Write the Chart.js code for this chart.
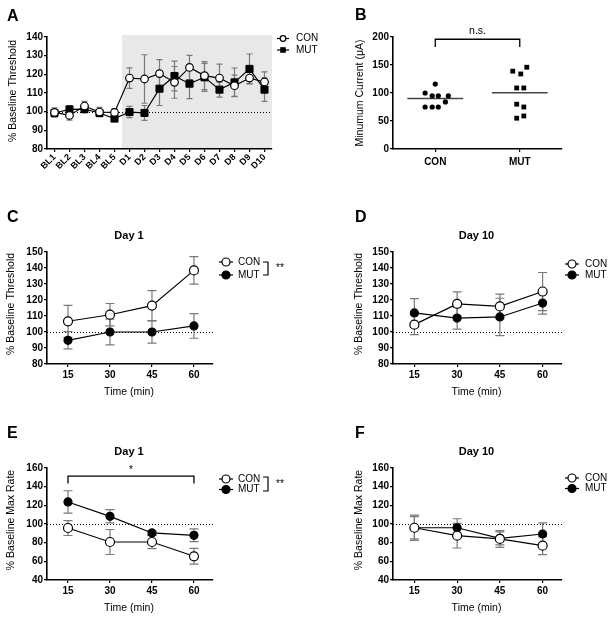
<!DOCTYPE html>
<html><head><meta charset="utf-8">
<script src="https://cdn.jsdelivr.net/npm/chart.js@4/dist/chart.umd.min.js"></script>
<style>
html,body{margin:0;padding:0;background:#fff;}
body{width:612px;height:618px;position:relative;overflow:hidden;}
canvas{position:absolute;}
</style></head><body>
<canvas id="cA" width="345" height="200" style="left:0;top:0"></canvas>
<canvas id="cB" width="267" height="200" style="left:345px;top:0"></canvas>
<canvas id="cC" width="306" height="200" style="left:0;top:200px"></canvas>
<canvas id="cD" width="306" height="200" style="left:306px;top:200px"></canvas>
<canvas id="cE" width="306" height="218" style="left:0;top:400px"></canvas>
<canvas id="cF" width="306" height="218" style="left:306px;top:400px"></canvas>
<script>
// ---------- DATA ----------
const catsA = ['BL1','BL2','BL3','BL4','BL5','D1','D2','D3','D4','D5','D6','D7','D8','D9','D10'];
const conA    = [99.6, 98, 103, 99.8, 99.6, 118, 117.5, 120.4, 115.7, 123.7, 119.3, 118, 113.9, 118, 115.9];
const conAErr = [2.5, 2.5, 2.5, 2.5, 2, 5.5, 13, 7.5, 8.5, 6.5, 7.5, 7.5, 5.7, 3, 5.4];
const mutA    = [99.3, 101.2, 101.4, 99.3, 96.3, 99.8, 99.3, 112.3, 119.1, 115, 118.4, 111.8, 115.7, 122.9, 111.8];
const mutAErr = [2, 2, 2, 2, 1.5, 3, 4, 9, 8, 8, 7.5, 4, 7.7, 8, 6.3];
const ticksA  = [80, 90, 100, 110, 120, 130, 140];

const groupsB = ['CON', 'MUT'];
const conB = [116, 100, 95, 95, 95, 84, 75, 75, 75];
const conBJitter = [0, -0.12, -0.036, 0.036, 0.155, 0.12, -0.12, -0.036, 0.036];
const mutB = [139, 134, 146, 109, 109, 80, 75, 59, 55];
const mutBJitter = [-0.083, 0.012, 0.083, -0.036, 0.048, -0.036, 0.048, 0.048, -0.036];
const ticksB = [0, 50, 100, 150, 200];

const timePoints = [15, 30, 45, 60];
const conC = [106.7, 110.8, 116.5, 138.5];  const conCErr = [10, 7, 9.4, 8.6];
const mutC = [94.8, 100, 100, 103.8];       const mutCErr = [5.4, 8.1, 6.9, 7.7];
const conD = [104.6, 117.6, 116, 125.3];    const conDErr = [6.3, 7.5, 7.7, 11.9];
const mutD = [111.9, 108.7, 109.4, 118.1];  const mutDErr = [8.9, 6.9, 11.7, 6.9];
const ticksCD = [80, 90, 100, 110, 120, 130, 140, 150];
const conE = [95.7, 80.7, 80.7, 65.4];      const conEErr = [8, 13.4, 7.1, 8.4];
const mutE = [123.6, 108.2, 90.4, 87.9];    const mutEErr = [12, 7.1, 2.5, 6.8];
const conF = [96, 87.5, 84, 76.8];          const conFErr = [13.5, 13.2, 9, 9.7];
const mutF = [96, 96, 84.6, 89.3];          const mutFErr = [12, 9.6, 7, 11.8];
const ticksEF = [40, 60, 80, 100, 120, 140, 160];

// ---------- STYLE ----------
const FF = '"Liberation Sans", Arial, Helvetica, sans-serif';
Chart.defaults.font.family = FF;
Chart.defaults.color = '#000';

const deco = {
  id: 'deco',
  beforeDraw(chart, a, o) {
    if (o.shadeFrom == null) return;
    const ctx = chart.ctx, ca = chart.chartArea, xs = chart.scales.x;
    const x0 = (xs.getPixelForValue(o.shadeFrom - 1) + xs.getPixelForValue(o.shadeFrom)) / 2;
    ctx.save(); ctx.fillStyle = '#e8e8e8';
    ctx.fillRect(x0, ca.top - 2, ca.right - x0, ca.bottom - ca.top + 1);
    ctx.restore();
  },
  beforeDatasetsDraw(chart, a, o) {
    const ctx = chart.ctx, ca = chart.chartArea, ys = chart.scales.y;
    ctx.save();
    if (o.ref != null) {
      const y = Math.round(ys.getPixelForValue(o.ref)) + 0.5;
      ctx.strokeStyle = '#000'; ctx.lineWidth = 1; ctx.setLineDash([1, 2]);
      ctx.beginPath(); ctx.moveTo(ca.left, y); ctx.lineTo(ca.right, y); ctx.stroke();
      ctx.setLineDash([]);
    }
    chart.data.datasets.forEach((ds, i) => {
      if (!ds.errors) return;
      const meta = chart.getDatasetMeta(i);
      ctx.strokeStyle = '#7a7a7a'; ctx.lineWidth = 1.2;
      meta.data.forEach((pt, j) => {
        const v = ys.getValueForPixel(pt.y), e = ds.errors[j];
        const yt = ys.getPixelForValue(v + e), yb = ys.getPixelForValue(v - e);
        ctx.beginPath();
        ctx.moveTo(pt.x, yt); ctx.lineTo(pt.x, yb);
        ctx.moveTo(pt.x - o.cap, yt); ctx.lineTo(pt.x + o.cap, yt);
        ctx.moveTo(pt.x - o.cap, yb); ctx.lineTo(pt.x + o.cap, yb);
        ctx.stroke();
      });
    });
    ctx.restore();
  },
  afterDraw(chart, a, o) {
    const ctx = chart.ctx, xs = chart.scales.x, ys = chart.scales.y;
    ctx.save();
    ctx.translate(-o.ox, -o.oy);
    ctx.fillStyle = '#000'; ctx.strokeStyle = '#000';
    (o.texts || []).forEach(t => {
      ctx.save();
      ctx.font = t.font; ctx.textAlign = t.align || 'center'; ctx.textBaseline = t.base || 'middle';
      ctx.translate(t.x, t.y);
      if (t.rot) ctx.rotate(-Math.PI / 2);
      ctx.fillText(t.t, 0, 0);
      ctx.restore();
    });
    if (o.legend) {
      const L = o.legend;
      L.items.forEach(it => {
        ctx.lineWidth = 1.2; ctx.strokeStyle = '#000';
        ctx.beginPath(); ctx.moveTo(L.mx - L.seg, it.y); ctx.lineTo(L.mx + L.seg, it.y); ctx.stroke();
        if (it.style === 'rect') {
          ctx.fillStyle = '#000';
          ctx.fillRect(L.mx - L.r, it.y - L.r, 2 * L.r, 2 * L.r);
        } else {
          ctx.beginPath(); ctx.arc(L.mx, it.y, L.r, 0, Math.PI * 2);
          ctx.fillStyle = it.fill; ctx.fill(); ctx.stroke();
        }
        ctx.fillStyle = '#000'; ctx.font = L.font; ctx.textAlign = 'left'; ctx.textBaseline = 'middle';
        ctx.fillText(it.label, L.tx, it.y);
      });
      if (L.bracket) {
        const b = L.bracket;
        ctx.lineWidth = 1.2;
        ctx.beginPath();
        ctx.moveTo(b.x - b.w, b.y1); ctx.lineTo(b.x, b.y1); ctx.lineTo(b.x, b.y2); ctx.lineTo(b.x - b.w, b.y2);
        ctx.stroke();
        ctx.font = L.font; ctx.textAlign = 'left'; ctx.textBaseline = 'middle';
        ctx.fillText(b.text, b.tx, b.ty);
      }
    }
    ctx.restore();
    if (o.sig) {
      const s = o.sig;
      const x1 = xs.getPixelForValue(s.x1), x2 = xs.getPixelForValue(s.x2);
      const yt = ys.getPixelForValue(s.yTop), yl = ys.getPixelForValue(s.yLeg);
      ctx.save();
      ctx.strokeStyle = '#000'; ctx.lineWidth = 1.3;
      ctx.beginPath(); ctx.moveTo(x1, yl); ctx.lineTo(x1, yt); ctx.lineTo(x2, yt); ctx.lineTo(x2, yl); ctx.stroke();
      ctx.fillStyle = '#000'; ctx.font = s.font; ctx.textAlign = 'center'; ctx.textBaseline = 'middle';
      ctx.fillText(s.label, (x1 + x2) / 2, yt - s.dy);
      ctx.restore();
    }
  }
};
Chart.register(deco);

function axisStyle(size) {
  return {
    grid: { display: true, drawOnChartArea: false, drawTicks: true, tickLength: 3, color: '#000', lineWidth: 1.2 },
    border: { display: true, color: '#000', width: 1.6 },
    ticks: { color: '#000', font: { family: FF, size: size, weight: 'bold' }, padding: 1 }
  };
}
function yScale(tickArr, width) {
  const a = axisStyle(10);
  return Object.assign(a, {
    type: 'linear', min: tickArr[0], max: tickArr[tickArr.length - 1],
    afterBuildTicks: s => { s.ticks = tickArr.map(v => ({ value: v })); },
    afterFit: s => { s.width = width; }
  });
}
function xTime(height) {
  const a = axisStyle(10);
  a.ticks.padding = 2;
  return Object.assign(a, {
    type: 'linear', min: 7.5, max: 66.8,
    afterBuildTicks: s => { s.ticks = timePoints.map(v => ({ value: v })); },
    afterFit: s => { s.height = height; }
  });
}
function pad(g) {
  return { left: 0, top: g.T - g.oy, right: g.ox + g.w - g.R, bottom: g.oy + g.h - g.B - g.xH };
}
function lineDs(label, vals, errs, filled, r, style) {
  return {
    label, data: timePoints.map((t, i) => ({ x: t, y: vals[i] })), errors: errs,
    borderColor: '#000', borderWidth: 1.2, tension: 0,
    pointStyle: style || 'circle', pointRadius: r, pointBorderWidth: 1.2,
    pointBackgroundColor: filled ? '#000' : '#fff', pointBorderColor: '#000'
  };
}
function baseOpts(g, scales, decoOpts) {
  decoOpts.ox = g.ox; decoOpts.oy = g.oy;
  return {
    responsive: false, animation: false, devicePixelRatio: 1, events: [],
    layout: { padding: pad(g) },
    scales: scales,
    plugins: { legend: { display: false }, tooltip: { enabled: false }, deco: decoOpts }
  };
}
const titleFont = '10.5px ' + FF;
const legFont = '10px ' + FF;
const letterFont = 'bold 16px ' + FF;
const headFont = 'bold 11px ' + FF;

// ---------- A ----------
{
  const g = { ox: 0, oy: 0, w: 345, h: 200, L: 47, T: 37, R: 272, B: 149, xH: 30 };
  const xa = axisStyle(9);
  Object.assign(xa, { type: 'category', offset: true, afterFit: s => { s.height = g.xH; } });
  xa.ticks.minRotation = 45; xa.ticks.maxRotation = 45; xa.ticks.autoSkip = false; xa.ticks.padding = 0;
  new Chart(document.getElementById('cA'), {
    type: 'line',
    data: { labels: catsA, datasets: [
      { label: 'CON', data: conA, errors: conAErr, borderColor: '#000', borderWidth: 1.2, pointStyle: 'circle', pointRadius: 3.8, pointBorderWidth: 1.2, pointBackgroundColor: '#fff', pointBorderColor: '#000' },
      { label: 'MUT', data: mutA, errors: mutAErr, borderColor: '#000', borderWidth: 1.2, pointStyle: 'rect', pointRadius: 5, pointBorderWidth: 1, pointBackgroundColor: '#000', pointBorderColor: '#000' }
    ]},
    options: baseOpts(g, { x: xa, y: yScale(ticksA, g.L - g.ox) }, {
      shadeFrom: 5, ref: 100, cap: 3,
      texts: [
        { t: 'A', x: 7, y: 21, font: letterFont, align: 'left', base: 'alphabetic' },
        { t: '% Baseline Threshold', x: 13, y: 91, font: titleFont, rot: true }
      ],
      legend: { mx: 283, seg: 6, r: 2.8, tx: 296, font: legFont,
        items: [{ y: 38.5, label: 'CON', fill: '#fff' }, { y: 50, label: 'MUT', style: 'rect' }] }
    })
  });
}

// ---------- B ----------
{
  const g = { ox: 345, oy: 0, w: 267, h: 200, L: 393, T: 37, R: 562, B: 149, xH: 22 };
  const xb = axisStyle(10);
  xb.ticks.padding = 4;
  Object.assign(xb, {
    type: 'linear', min: 0.5, max: 2.5,
    afterBuildTicks: s => { s.ticks = [1, 2].map(v => ({ value: v })); },
    afterFit: s => { s.height = g.xH; }
  });
  xb.ticks.callback = v => groupsB[v - 1];
  const mean = arr => arr.reduce((a, b) => a + b, 0) / arr.length;
  const mc = mean(conB), mm = mean(mutB);
  new Chart(document.getElementById('cB'), {
    type: 'scatter',
    data: { datasets: [
      { label: 'CON', data: conB.map((v, i) => ({ x: 1 + conBJitter[i], y: v })), pointStyle: 'circle', pointRadius: 2.6, pointBackgroundColor: '#000', pointBorderColor: '#000', pointBorderWidth: 0 },
      { label: 'MUT', data: mutB.map((v, i) => ({ x: 2 + mutBJitter[i], y: v })), pointStyle: 'rect', pointRadius: 3.4, pointBackgroundColor: '#000', pointBorderColor: '#000', pointBorderWidth: 0 },
      { type: 'line', label: 'CON mean', data: [{ x: 0.67, y: mc }, { x: 1.33, y: mc }], borderColor: '#444', borderWidth: 1.5, pointRadius: 0 },
      { type: 'line', label: 'MUT mean', data: [{ x: 1.67, y: mm }, { x: 2.33, y: mm }], borderColor: '#444', borderWidth: 1.5, pointRadius: 0 }
    ]},
    options: baseOpts(g, { x: xb, y: yScale(ticksB, g.L - g.ox) }, {
      texts: [
        { t: 'B', x: 355, y: 20, font: letterFont, align: 'left', base: 'alphabetic' },
        { t: 'Minumum Current (\u03bcA)', x: 360, y: 93, font: titleFont, rot: true }
      ],
      sig: { x1: 1, x2: 2, yTop: 196, yLeg: 182, label: 'n.s.', font: '10.5px ' + FF, dy: 8 }
    })
  });
}

// ---------- C, D, E, F ----------
function timePanel(id, g, con, conErr, mut, mutErr, yt, letter, head, extra) {
  const d = Object.assign({
    ref: 100, cap: 4.5,
    texts: [
      { t: letter, x: g.ox + (g.ox ? 49 : 7), y: g.oy + (g.oy === 400 ? 38 : 22), font: letterFont, align: 'left', base: 'alphabetic' },
      { t: head, x: (g.L + g.R) / 2 - 1, y: g.oy + (g.oy === 400 ? 52 : 36), font: headFont },
      { t: yt === ticksCD ? '% Baseline Threshold' : '% Baseline Max Rate', x: g.ox + (g.ox ? 53 : 11), y: (g.T + g.B) / 2 - 4, font: titleFont, rot: true },
      { t: 'Time (min)', x: (g.L + g.R) / 2 - 1, y: g.B + 28, font: titleFont }
    ]
  }, extra);
  new Chart(document.getElementById(id), {
    type: 'line',
    data: { datasets: [ lineDs('CON', con, conErr, false, 4.5), lineDs('MUT', mut, mutErr, true, 4) ] },
    options: baseOpts(g, { x: xTime(g.xH), y: yScale(yt, g.L - g.ox) }, d)
  });
}
timePanel('cC', { ox: 0, oy: 200, w: 306, h: 200, L: 47, T: 252, R: 213, B: 364, xH: 20 },
  conC, conCErr, mutC, mutCErr, ticksCD, 'C', 'Day 1', {
    legend: { mx: 226, seg: 7, r: 4, tx: 238, font: legFont,
      items: [{ y: 262, label: 'CON', fill: '#fff' }, { y: 275, label: 'MUT', fill: '#000' }],
      bracket: { x: 268, y1: 262, y2: 275, w: 5, text: '**', tx: 276, ty: 268 } }
  });
timePanel('cD', { ox: 306, oy: 200, w: 306, h: 200, L: 393, T: 252, R: 562, B: 364, xH: 20 },
  conD, conDErr, mutD, mutDErr, ticksCD, 'D', 'Day 10', {
    legend: { mx: 572, seg: 7, r: 4, tx: 585, font: legFont,
      items: [{ y: 264, label: 'CON', fill: '#fff' }, { y: 275, label: 'MUT', fill: '#000' }] }
  });
timePanel('cE', { ox: 0, oy: 400, w: 306, h: 218, L: 47, T: 468, R: 213, B: 580, xH: 20 },
  conE, conEErr, mutE, mutEErr, ticksEF, 'E', 'Day 1', {
    legend: { mx: 226, seg: 7, r: 4, tx: 238, font: legFont,
      items: [{ y: 479, label: 'CON', fill: '#fff' }, { y: 489.5, label: 'MUT', fill: '#000' }],
      bracket: { x: 268, y1: 477, y2: 491, w: 5, text: '**', tx: 276, ty: 484 } },
    sig: { x1: 15, x2: 60, yTop: 151.4, yLeg: 143.5, label: '*', font: '10px ' + FF, dy: 6 }
  });
timePanel('cF', { ox: 306, oy: 400, w: 306, h: 218, L: 393, T: 468, R: 562, B: 580, xH: 20 },
  conF, conFErr, mutF, mutFErr, ticksEF, 'F', 'Day 10', {
    legend: { mx: 572, seg: 7, r: 4, tx: 585, font: legFont,
      items: [{ y: 478, label: 'CON', fill: '#fff' }, { y: 488.5, label: 'MUT', fill: '#000' }] }
  });
</script>
</body></html>
